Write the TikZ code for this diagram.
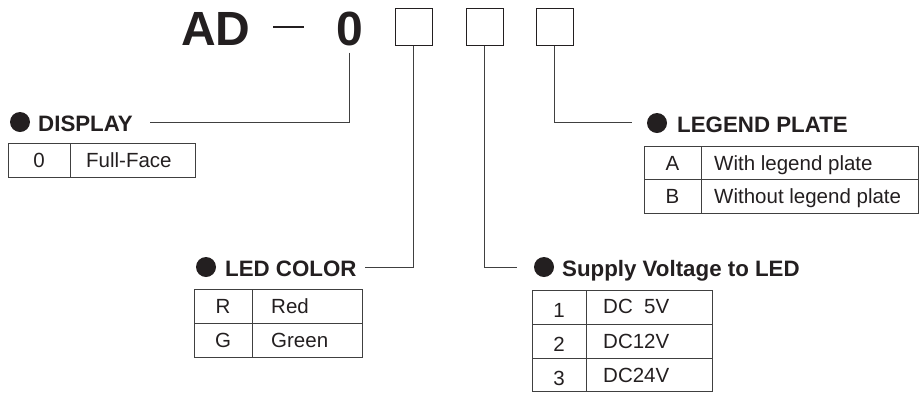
\documentclass[tikz,border=0pt]{standalone}
\usepackage{fontspec}
\setmainfont{Liberation Sans}
\definecolor{ink}{HTML}{231F20}
\definecolor{rulec}{HTML}{404040}
\begin{document}
\begin{tikzpicture}[x=1pt,y=-1pt,
  lbl/.style={font=\fontsize{20.5}{24}\selectfont, text=ink, inner sep=0, anchor=base},
  val/.style={lbl, anchor=base west},
  head/.style={font=\bfseries\fontsize{22.3}{26}\selectfont, text=ink, inner sep=0, anchor=base west},
  dot/.style={circle, fill=ink, minimum size=20pt, inner sep=0},
  conn/.style={draw=rulec, line width=0.9pt},
  tbl/.style={draw=rulec, line width=0.9pt},
  title/.style={font=\bfseries\fontsize{48}{56}\selectfont, text=ink, inner sep=0},
  codebox/.style={draw=ink, line width=1pt, minimum size=37pt, inner sep=0}]
\useasboundingbox (0,0) rectangle (920,392);

% title
\node[title, anchor=base west] (ad) at (181,45) {AD};
\draw[ink, line width=2.5pt] (273,27) -- (304,27);
\node[title, anchor=base] (zero) at (349.5,45) {0};
\node[codebox] (b1) at (413.5,26.5) {};
\node[codebox] (b2) at (484.5,26.5) {};
\node[codebox] (b3) at (554.5,26.5) {};

% connector ends
\coordinate (dispEnd) at (150,122);
\coordinate (legEnd) at (632,122);
\coordinate (ledEnd) at (365,267);
\coordinate (supEnd) at (517,267);
\draw[conn] ([yshift=-7pt]zero.south) |- (dispEnd);
\draw[conn] (b3.south) |- (legEnd);
\draw[conn] (b1.south) |- (ledEnd);
\draw[conn] (b2.south) |- (supEnd);

% headings
\node[dot] (dDisp) at (20,122) {};
\node[head] (hDisp) at (38,131) {DISPLAY};
\node[dot] (dLeg) at (657,123) {};
\node[head] (hLeg) at (677,132) {LEGEND PLATE};
\node[dot] (dLed) at (206,267) {};
\node[head] (hLed) at (225,276) {LED COLOR};
\node[dot] (dSup) at (544,267) {};
\node[head] (hSup) at (562,276) {Supply Voltage to LED};

% DISPLAY table
\draw[tbl] (8,143) rectangle (195,177);
\draw[tbl] (70,143) -- (70,177);
\node[lbl] (k0) at (39,167) {0};
\node[val] (v0) at (86,167) {Full-Face};

% LEGEND PLATE table
\draw[tbl] (644,146) rectangle (918,213);
\draw[tbl] (644,179.5) -- (918,179.5);
\draw[tbl] (701,146) -- (701,213);
\node[lbl] (kA) at (672.5,170) {A};
\node[val] (vA) at (714,170) {With legend plate};
\node[lbl] (kB) at (672.5,203) {B};
\node[val] (vB) at (714,203) {Without legend plate};

% LED COLOR table
\draw[tbl] (194,289) rectangle (362,357);
\draw[tbl] (194,323) -- (362,323);
\draw[tbl] (252,289) -- (252,357);
\node[lbl] (kR) at (223,313) {R};
\node[val] (vR) at (271,313) {Red};
\node[lbl] (kG) at (223,347) {G};
\node[val] (vG) at (271,347) {Green};

% Supply voltage table
\draw[tbl] (532,290) rectangle (712,391);
\draw[tbl] (532,324) -- (712,324);
\draw[tbl] (532,358) -- (712,358);
\draw[tbl] (586,290) -- (586,391);
\node[lbl] (k1) at (559,317) {1};
\node[val] (v1) at (603,313) {DC\phantom{1}5V};
\node[lbl] (k2) at (559,351) {2};
\node[val] (v2) at (603,348) {DC12V};
\node[lbl] (k3) at (559,385) {3};
\node[val] (v3) at (603,382) {DC24V};
\end{tikzpicture}
\end{document}
